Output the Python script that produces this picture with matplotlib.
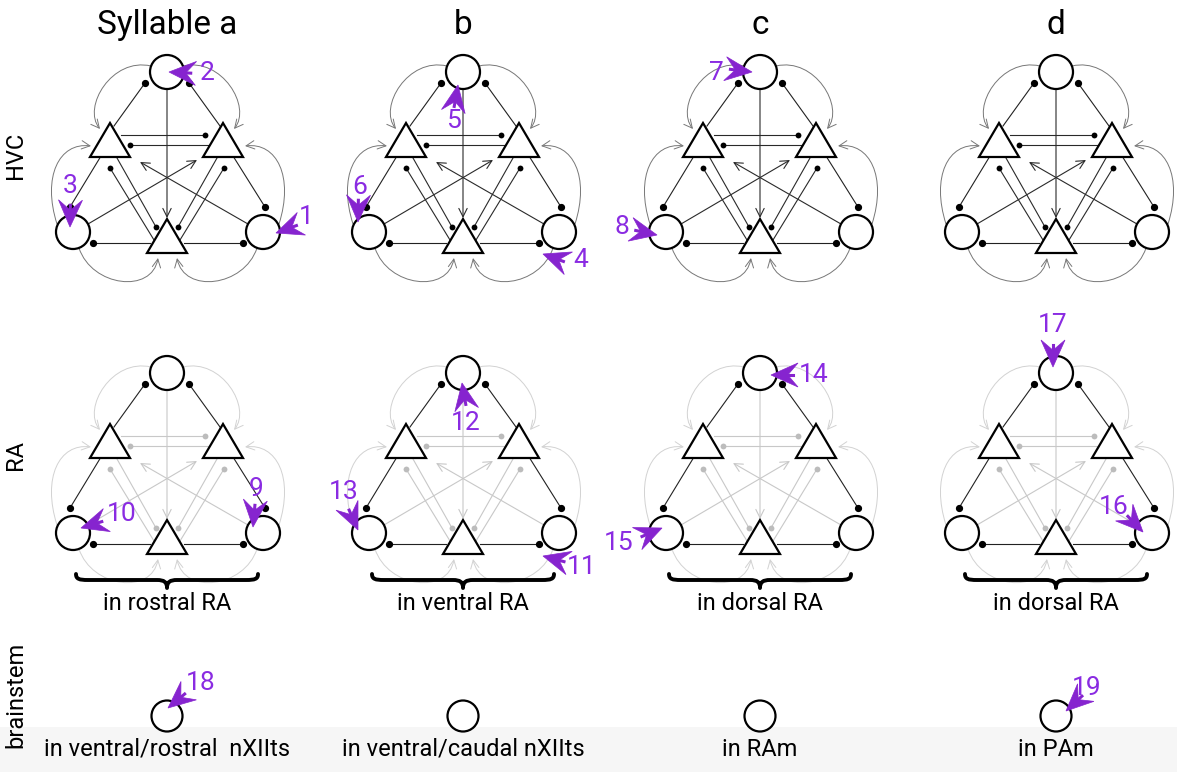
import numpy as np
import matplotlib
matplotlib.use('Agg')
import matplotlib.pyplot as plt
import matplotlib.font_manager as fm
from matplotlib.patches import Circle, Polygon, FancyArrowPatch, PathPatch, Rectangle
from matplotlib.path import Path

# ---- data ----
syllables = ['Syllable a', 'b', 'c', 'd']
rows = ['HVC', 'RA', 'brainstem']
ra_regions = ['in rostral RA', 'in ventral RA', 'in dorsal RA', 'in dorsal RA']
brainstem_regions = ['in ventral/rostral  nXIIts', 'in ventral/caudal nXIIts', 'in RAm', 'in PAm']
site_numbers = [1, 2, 3, 4, 5, 6, 7, 8, 9, 10, 11, 12, 13, 14, 15, 16, 17, 18, 19]

# ---- layout (pixels, y down) ----
names = {f.name for f in fm.fontManager.ttflist}
FONT = 'DejaVu Sans'
for fam in ['Liberation Sans Narrow', 'Roboto', 'Liberation Sans']:
    if fam in names:
        FONT = fam
        break
plt.rcParams['font.family'] = [FONT, 'DejaVu Sans']

PURPLE = '#8624cf'
panel_x = [167, 463, 760, 1056]
row_y = [72, 373]
R = 17
TRI_W, TRI_H = 20, 34

circles = [(0, 0), (-94, 160), (96, 160)]
triangles = [(-57, 85), (56, 85), (0, 181)]

# tri -> circle connections (black in RA)
dot_main = [((-53, 54), (-22, 11)), ((53, 54), (22, 11)),
            ((-66, 84), (-97, 135)), ((66, 84), (98, 135)),
            ((-17, 171), (-74, 171)), ((17, 171), (76, 171))]
# tri <-> tri connections
dot_other = [((-46, 63), (38, 63)), ((42, 73), (-37, 73)),
             ((-13, 168), (-57, 96)), ((-50, 86), (-11, 155)),
             ((13, 168), (57, 96)), ((50, 86), (11, 155))]
arrows_straight = [((0, 17), (0, 146)), ((-79, 152), (30, 88)), ((81, 152), (-27, 90))]
arcs = [[(-16, -6), (-55, -15), (-85, 35), (-67, 57)],
        [(16, -6), (55, -15), (85, 35), (67, 57)],
        [(-110, 152), (-125, 105), (-108, 70), (-76, 74)],
        [(112, 152), (127, 105), (110, 70), (78, 74)],
        [(-88, 176), (-75, 215), (-15, 222), (-9, 186)],
        [(90, 176), (77, 215), (17, 222), (10, 186)]]

# purple markers: tip x, tip y, angle (deg, y down), label x, label y
marks = [(276, 233, 160, 306, 217), (169, 72, 183, 207, 73), (70, 227, 91, 70, 186),
         (543, 254, 200, 581, 260), (458, 85, 280, 453, 121), (358, 222, 91, 360, 187),
         (752, 72, 7, 716, 73), (657, 235, 12, 622, 227), (253, 527, 95, 256, 489),
         (81, 528, 163, 122, 514), (543, 556, 195, 582, 567), (462, 383, 260, 466, 423),
         (358, 530, 66, 344, 492), (771, 375, 180, 814, 375), (662, 528, 337, 619, 543),
         (1143, 532, 46, 1114, 507), (1053, 367, 90, 1053, 325), (168, 708, 140, 201, 683),
         (1066, 711, 137, 1087, 688)]

fig = plt.figure(figsize=(11.77, 7.72), dpi=100)
ax = fig.add_axes([0, 0, 1, 1])
ax.set_xlim(0, 1177)
ax.set_ylim(772, 0)
ax.axis('off')

ax.add_patch(Rectangle((0, 727), 1177, 45, color='#f6f6f6', zorder=0, lw=0))


def draw_network(cx, cy, ra):
    def p(pt):
        return cx + pt[0], cy + pt[1]
    main_col = '#222222'
    other_col = '#c8c8c8' if ra else '#2a2a2a'
    other_dot = '#bcbcbc' if ra else 'black'
    arc_col = '#d2d2d2' if ra else '#777777'
    for a, b in dot_main:
        (x0, y0), (x1, y1) = p(a), p(b)
        ax.plot([x0, x1], [y0, y1], color=main_col, lw=0.8, zorder=2)
        ax.plot(x1, y1, 'o', color='black', ms=4.2, zorder=3)
    for a, b in dot_other:
        (x0, y0), (x1, y1) = p(a), p(b)
        ax.plot([x0, x1], [y0, y1], color=other_col, lw=0.8, zorder=2)
        ax.plot(x1, y1, 'o', color=other_dot, ms=4.2, mec='none', zorder=3)
    for a, b in arrows_straight:
        ax.add_patch(FancyArrowPatch(p(a), p(b), arrowstyle='->,head_length=0.6,head_width=0.3',
                                     mutation_scale=10, color=other_col, lw=0.8,
                                     shrinkA=0, shrinkB=0, zorder=2))
    for ctrl in arcs:
        path = Path([p(c) for c in ctrl], [Path.MOVETO, Path.CURVE4, Path.CURVE4, Path.CURVE4])
        ax.add_patch(FancyArrowPatch(path=path, arrowstyle='->,head_length=0.6,head_width=0.3',
                                     mutation_scale=10, color=arc_col, lw=0.7, zorder=1))
    for c in circles:
        ax.add_patch(Circle(p(c), R, fc='white', ec='black', lw=1.6, zorder=4))
    for t in triangles:
        x, y = p(t)
        ax.add_patch(Polygon([(x - TRI_W, y), (x + TRI_W, y), (x, y - TRI_H)], closed=True,
                             fc='white', ec='black', lw=1.6, zorder=4))


def draw_brace(cx, y):
    h = 91
    verts = [(cx - h, y - 6), (cx - h, y - 1), (cx - h + 3, y), (cx - h + 12, y),
             (cx - 10, y), (cx - 3, y), (cx, y + 2), (cx, y + 8),
             (cx, y + 2), (cx + 3, y), (cx + 10, y),
             (cx + h - 12, y), (cx + h - 3, y), (cx + h, y - 1), (cx + h, y - 6)]
    codes = [Path.MOVETO, Path.CURVE4, Path.CURVE4, Path.CURVE4,
             Path.LINETO, Path.CURVE4, Path.CURVE4, Path.CURVE4,
             Path.CURVE4, Path.CURVE4, Path.CURVE4,
             Path.LINETO, Path.CURVE4, Path.CURVE4, Path.CURVE4]
    ax.add_patch(PathPatch(Path(verts, codes), fc='none', ec='black', lw=2.8,
                           capstyle='round', joinstyle='round', zorder=3))


for i, cx in enumerate(panel_x):
    ax.text(cx, 25, syllables[i], ha='center', va='center', fontsize=24)
    draw_network(cx, row_y[0], False)
    draw_network(cx, row_y[1], True)
    draw_brace(cx, 580)
    ax.text(cx, 604, ra_regions[i], ha='center', va='center', fontsize=17)
    ax.add_patch(Circle((cx, 716), 15.5, fc='white', ec='black', lw=1.6, zorder=4))
    ax.text(cx, 749, brainstem_regions[i], ha='center', va='center', fontsize=17)

for name, y in zip(rows, [155, 455, 695]):
    ax.text(16, y, name, rotation=90, ha='center', va='center', fontsize=17)

L, W = 27, 24
for num, (tx, ty, ang, lx, ly) in zip(site_numbers, marks):
    a = np.deg2rad(ang)
    u = np.array([np.cos(a), np.sin(a)])
    v = np.array([-np.sin(a), np.cos(a)])
    tip = np.array([tx, ty])
    pts = [tip, tip - L * u + W / 2 * v, tip - 0.62 * L * u, tip - L * u - W / 2 * v]
    ax.add_patch(Polygon(pts, closed=True, fc=PURPLE, ec=PURPLE, lw=0.5, zorder=6))
    s0 = tip - 0.62 * L * u
    s1 = tip - (0.62 * L + 5) * u
    ax.plot([s0[0], s1[0]], [s0[1], s1[1]], color=PURPLE, lw=2.2, zorder=6)
    ax.text(lx, ly, str(num), color='#8a2be2', ha='center', va='center', fontsize=19, zorder=7)

fig.savefig('out.png', dpi=100)
